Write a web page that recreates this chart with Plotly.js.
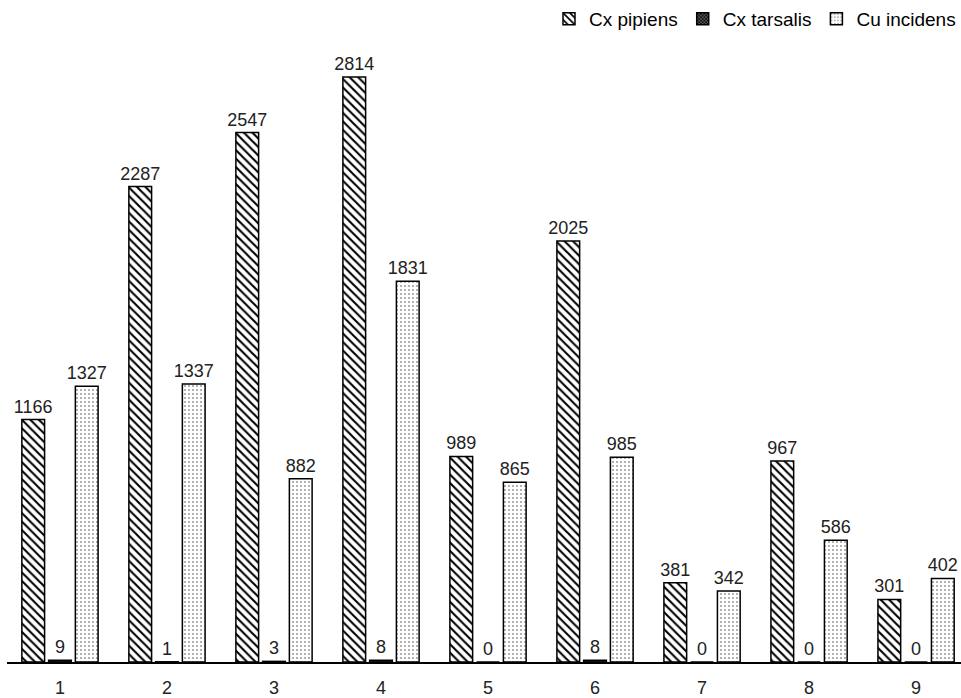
<!DOCTYPE html>
<html><head><meta charset="utf-8">
<script src="https://cdn.plot.ly/plotly-3.0.1.min.js"></script>
<style>body{margin:0;background:#fff}#c{width:961px;height:698px}</style>
</head><body><div id="c"></div>
<script>
const categories = ["1","2","3","4","5","6","7","8","9"];
const seriesNames = ["Cx pipiens","Cx tarsalis","Cu incidens"];
const cxPipiens = [1166, 2287, 2547, 2814, 989, 2025, 381, 967, 301];
const cxTarsalis = [9, 1, 3, 8, 0, 8, 0, 0, 0];
const cuIncidens = [1327, 1337, 882, 1831, 865, 985, 342, 586, 402];

const font = "Liberation Sans, Arial, sans-serif";
function mk(name, vals, pattern){
  return {
    type:'bar', name:name, x:categories, y:vals,
    text: vals.map(String), textposition:'outside', cliponaxis:false, constraintext:'none',
    textfont:{family:font, size:18, color:'#222'},
    marker:{color:'#fff', line:{color:'#000', width:1.5}, pattern:pattern}
  };
}
const data = [
  mk(seriesNames[0], cxPipiens, {shape:'\\', fgcolor:'#000', bgcolor:'#fff', size:6, solidity:0.35}),
  mk(seriesNames[1], cxTarsalis, {shape:'x', fgcolor:'#000', bgcolor:'#555', size:3, solidity:0.5}),
  mk(seriesNames[2], cuIncidens, {shape:'.', fgcolor:'#999', bgcolor:'#fff', size:4, solidity:0.2})
];
const layout = {
  width:961, height:698,
  margin:{l:7, r:0, t:40, b:36},
  paper_bgcolor:'#fff', plot_bgcolor:'#fff',
  barmode:'group', bargap:0.25, bargroupgap:0.15,
  showlegend:true,
  legend:{orientation:'h', x:1, xanchor:'right', y:1.065, yanchor:'top',
    font:{family:font, size:19, color:'#000'}, traceorder:'normal', itemwidth:30},
  xaxis:{type:'category', range:[-0.495, 8.42], showline:true, linecolor:'#000', linewidth:2,
    ticks:'', ticklabelstandoff:8, showgrid:false, tickfont:{family:font, size:18, color:'#222'}, fixedrange:true},
  yaxis:{range:[0, 2992], visible:false, showgrid:false, zeroline:false, fixedrange:true}
};
Plotly.newPlot('c', data, layout, {displayModeBar:false, staticPlot:true});
</script>
</body></html>
